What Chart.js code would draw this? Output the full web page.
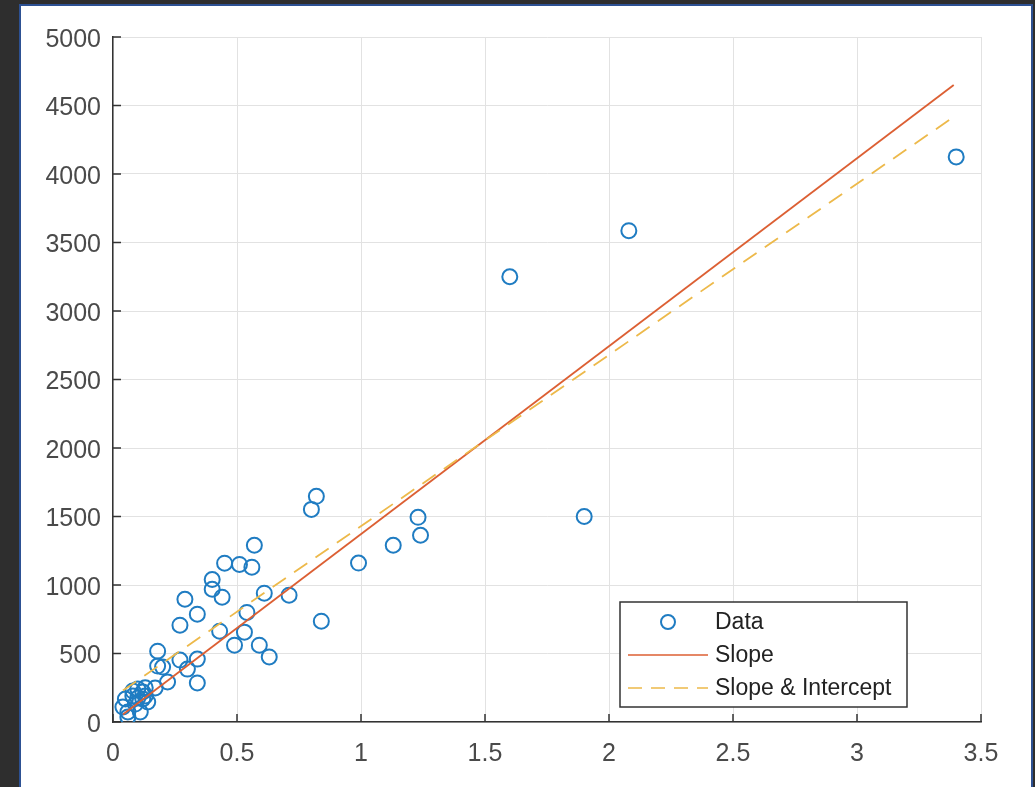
<!DOCTYPE html>
<html>
<head>
<meta charset="utf-8">
<script src="https://cdn.jsdelivr.net/npm/chart.js@4.4.1/dist/chart.umd.min.js"></script>
<style>
  html, body { margin: 0; padding: 0; background: #2e2e2e; }
  canvas { display: block; }
</style>
</head>
<body>
<canvas id="chart" width="1035" height="787"></canvas>
<script>
// measured points (x, y)
const dataX = [3.40, 2.08, 1.60, 1.90, 1.23, 1.24, 1.13, 0.99, 0.82, 0.80, 0.84, 0.71, 0.61, 0.57, 0.56, 0.51, 0.45,
  0.40, 0.40, 0.44, 0.34, 0.29, 0.27, 0.54, 0.43, 0.53, 0.49, 0.59, 0.63, 0.34, 0.27, 0.30, 0.34, 0.18, 0.18,
  0.20, 0.22, 0.17, 0.13, 0.08, 0.10, 0.12, 0.08, 0.10, 0.12, 0.05, 0.04, 0.06, 0.11, 0.06, 0.14, 0.09, 0.13];
const dataY = [4125, 3586, 3250, 1500, 1494, 1363, 1290, 1160, 1647, 1552, 736, 926, 940, 1290, 1130, 1150, 1159,
  1040, 969, 911, 787, 896, 707, 800, 663, 656, 561, 561, 475, 459, 452, 386, 285, 517, 408,
  401, 292, 248, 250, 226, 241, 219, 190, 175, 168, 168, 109, 73, 73, 36, 146, 131, 190];

// fitted lines, end points
const slopeX = [0.04, 3.39];
const slopeY = [55, 4650];
const interceptX = [0.04, 3.39];
const interceptY = [230, 4417];

const xTicks = [0, 0.5, 1, 1.5, 2, 2.5, 3, 3.5];
const yTicks = [0, 500, 1000, 1500, 2000, 2500, 3000, 3500, 4000, 4500, 5000];

const blue = '#1f7cc2';
const orange = '#dc5f33';
const yellow = '#edb94a';
const font = "'Liberation Sans', Arial, sans-serif";

const pts = (xs, ys) => xs.map((x, i) => ({ x, y: ys[i] }));

// dark frame with white panel
const framePlugin = {
  id: 'frame',
  beforeDraw(chart) {
    const c = chart.ctx;
    c.save();
    c.fillStyle = '#2e2e2e';
    c.fillRect(0, 0, chart.width, chart.height);
    c.fillStyle = '#ffffff';
    c.fillRect(20, 5, 1012, 790);
    c.strokeStyle = '#2d5193';
    c.lineWidth = 2;
    c.strokeRect(20, 5, 1012, 790);
    c.restore();
  }
};

// inward tick marks like matlab
const tickPlugin = {
  id: 'inTicks',
  afterDraw(chart) {
    const c = chart.ctx;
    const xs = chart.scales.x, ys = chart.scales.y;
    const a = chart.chartArea;
    c.save();
    c.strokeStyle = '#333';
    c.lineWidth = 1.5;
    c.beginPath();
    xTicks.forEach(v => {
      const px = xs.getPixelForValue(v);
      c.moveTo(px, a.bottom);
      c.lineTo(px, a.bottom - 8);
    });
    yTicks.forEach(v => {
      const py = ys.getPixelForValue(v);
      c.moveTo(a.left, py);
      c.lineTo(a.left + 8, py);
    });
    c.stroke();
    c.restore();
  }
};

// legend box inside the axes
const legendPlugin = {
  id: 'boxLegend',
  afterDraw(chart) {
    const c = chart.ctx;
    c.save();
    c.fillStyle = '#fff';
    c.fillRect(620, 602, 287, 105);
    c.strokeStyle = '#333';
    c.lineWidth = 1.5;
    c.strokeRect(620, 602, 287, 105);

    c.strokeStyle = blue;
    c.lineWidth = 2;
    c.beginPath();
    c.arc(668, 622, 7, 0, Math.PI * 2);
    c.stroke();

    c.strokeStyle = orange;
    c.lineWidth = 1.5;
    c.beginPath();
    c.moveTo(628, 655); c.lineTo(708, 655);
    c.stroke();

    c.strokeStyle = yellow;
    c.setLineDash([14, 9]);
    c.beginPath();
    c.moveTo(628, 688); c.lineTo(708, 688);
    c.stroke();
    c.setLineDash([]);

    c.fillStyle = '#222';
    c.font = '23px ' + font;
    c.textBaseline = 'middle';
    c.fillText('Data', 715, 623);
    c.fillText('Slope', 715, 656);
    c.fillText('Slope & Intercept', 715, 689);
    c.restore();
  }
};

new Chart(document.getElementById('chart'), {
  type: 'scatter',
  data: {
    datasets: [
      {
        label: 'Data',
        data: pts(dataX, dataY),
        showLine: false,
        pointStyle: 'circle',
        pointRadius: 7.5,
        pointBorderWidth: 2,
        borderColor: blue,
        backgroundColor: 'rgba(0,0,0,0)',
        order: 3
      },
      {
        label: 'Slope',
        data: pts(slopeX, slopeY),
        showLine: true,
        pointRadius: 0,
        borderColor: orange,
        borderWidth: 1.8,
        order: 2
      },
      {
        label: 'Slope & Intercept',
        data: pts(interceptX, interceptY),
        showLine: true,
        pointRadius: 0,
        borderColor: yellow,
        borderWidth: 1.8,
        borderDash: [16, 10],
        order: 1
      }
    ]
  },
  options: {
    responsive: false,
    devicePixelRatio: 1,
    animation: false,
    layout: { padding: { top: 37, right: 54, left: 0, bottom: 0 } },
    plugins: {
      legend: { display: false },
      tooltip: { enabled: false }
    },
    scales: {
      x: {
        type: 'linear',
        min: 0,
        max: 3.5,
        afterFit: s => { s.height = 65; },
        afterBuildTicks: s => { s.ticks = xTicks.map(v => ({ value: v })); },
        grid: { color: '#e2e2e2', lineWidth: 1, drawTicks: false },
        border: { display: true, color: '#333', width: 1.5 },
        ticks: {
          color: '#4a4a4a', font: { family: font, size: 25 }, padding: 17, maxRotation: 0,
          callback: v => String(v)
        }
      },
      y: {
        type: 'linear',
        min: 0,
        max: 5000,
        afterFit: s => { s.width = 113; },
        afterBuildTicks: s => { s.ticks = yTicks.map(v => ({ value: v })); },
        grid: { color: '#e2e2e2', lineWidth: 1, drawTicks: false },
        border: { display: true, color: '#333', width: 1.5 },
        ticks: {
          color: '#4a4a4a', font: { family: font, size: 25 }, padding: 12, labelOffset: 3,
          callback: v => String(v)
        }
      }
    }
  },
  plugins: [framePlugin, tickPlugin, legendPlugin]
});
</script>
</body>
</html>
